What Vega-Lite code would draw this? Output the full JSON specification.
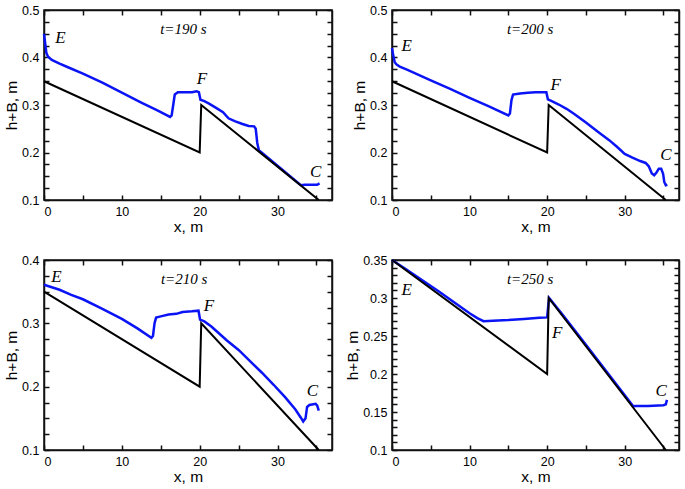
{
  "$schema": "https://vega.github.io/schema/vega-lite/v6.json",
  "padding": 3,
  "config": {
    "view": {"stroke": "#111111", "strokeWidth": 1.5},
    "axis": {
      "labelColor": "black", "labelFont": "Liberation Sans", "labelFontSize": 12.5,
      "titleFont": "Liberation Sans", "titleFontSize": 15.5, "titleFontWeight": "normal", "titleColor": "black",
      "tickColor": "#111111", "domainColor": "#111111", "gridOpacity": 0, "titlePadding": 2
    }
  },
  "columns": 2,
  "spacing": {"column": 10, "row": 17},
  "concat": [
    {
      "width": 288, "height": 190,
      "resolve": {"axis": {"x": "independent", "y": "independent"}},
      "layer": [
        {
          "data": {"values": [
            {"x": 0, "y": 0.45}, {"x": 0.15, "y": 0.43}, {"x": 0.3, "y": 0.41}, {"x": 0.5, "y": 0.402}, {"x": 1, "y": 0.395}, {"x": 2, "y": 0.387}, {"x": 3, "y": 0.38}, {"x": 5, "y": 0.366}, {"x": 7.5, "y": 0.347}, {"x": 10, "y": 0.326}, {"x": 12.5, "y": 0.305}, {"x": 14.5, "y": 0.289}, {"x": 16.2, "y": 0.275}, {"x": 16.4, "y": 0.278}, {"x": 16.6, "y": 0.3}, {"x": 16.8, "y": 0.322}, {"x": 17.2, "y": 0.327}, {"x": 18, "y": 0.327}, {"x": 19, "y": 0.327}, {"x": 19.6, "y": 0.329}, {"x": 19.9, "y": 0.327}, {"x": 20.1, "y": 0.311}, {"x": 20.6, "y": 0.308}, {"x": 21.2, "y": 0.303}, {"x": 22, "y": 0.295}, {"x": 23, "y": 0.285}, {"x": 23.7, "y": 0.272}, {"x": 24.5, "y": 0.266}, {"x": 25.5, "y": 0.26}, {"x": 26.3, "y": 0.256}, {"x": 27, "y": 0.255}, {"x": 27.2, "y": 0.25}, {"x": 27.4, "y": 0.22}, {"x": 27.6, "y": 0.205}, {"x": 30, "y": 0.172}, {"x": 33, "y": 0.131}, {"x": 33.5, "y": 0.132}, {"x": 34.5, "y": 0.132}, {"x": 35.1, "y": 0.132}, {"x": 35.4, "y": 0.135}
          ]},
          "mark": {"type": "line", "color": "#0a14f5", "strokeWidth": 2.5},
          "encoding": {
            "x": {"field": "x", "type": "quantitative", "scale": {"domain": [0, 37], "nice": false},
                  "axis": {"orient": "bottom", "title": "x, m", "values": [0, 5, 10, 15, 20, 25, 30, 35], "labelExpr": "datum.value % 10 == 0 ? datum.label : ''", "tickSize": -5, "tickWidth": 1.5, "domainWidth": 1.5, "labelPadding": 10, "labelOverlap": false}},
            "y": {"field": "y", "type": "quantitative", "scale": {"domain": [0.1, 0.5], "nice": false, "zero": false},
                  "axis": {"orient": "left", "title": "h+B, m", "values": [0.1, 0.125, 0.15, 0.175, 0.2, 0.225, 0.25, 0.275, 0.3, 0.325, 0.35, 0.375, 0.4, 0.425, 0.45, 0.475, 0.5], "labelExpr": "abs(datum.value*10 - round(datum.value*10)) < 0.001 ? format(datum.value, '.2~f') : ''", "tickSize": -5, "tickWidth": 1.5, "domainWidth": 1.5, "labelPadding": 10, "labelOverlap": false}}
          }
        },
        {
          "data": {"values": [{"x": 0, "y": 0.35}, {"x": 20, "y": 0.2}, {"x": 20.2, "y": 0.3}, {"x": 35.3, "y": 0.1}]},
          "mark": {"type": "line", "color": "black", "strokeWidth": 2},
          "encoding": {
            "x": {"field": "x", "type": "quantitative", "axis": {"orient": "top", "title": null, "labels": false, "values": [0, 5, 10, 15, 20, 25, 30, 35], "tickSize": -5, "tickWidth": 1.5, "domainWidth": 1.5}},
            "y": {"field": "y", "type": "quantitative", "axis": {"orient": "right", "title": null, "labels": false, "values": [0.1, 0.125, 0.15, 0.175, 0.2, 0.225, 0.25, 0.275, 0.3, 0.325, 0.35, 0.375, 0.4, 0.425, 0.45, 0.475, 0.5], "tickSize": -5, "tickWidth": 1.5, "domainWidth": 1.5}}
          }
        },
        {
          "data": {"values": [{"label": "E", "x": 2.1, "y": 0.441}, {"label": "F", "x": 20.3, "y": 0.354}, {"label": "C", "x": 34.9, "y": 0.159}]},
          "mark": {"type": "text", "font": "Liberation Serif", "fontStyle": "italic", "fontSize": 17, "color": "black"},
          "encoding": {"x": {"field": "x", "type": "quantitative", "axis": null}, "y": {"field": "y", "type": "quantitative", "axis": null}, "text": {"field": "label"}}
        },
        {
          "data": {"values": [{"label": "t=190 s", "x": 17.9, "y": 0.46}]},
          "mark": {"type": "text", "font": "Liberation Serif", "fontStyle": "italic", "fontSize": 15, "color": "black"},
          "encoding": {"x": {"field": "x", "type": "quantitative", "axis": null}, "y": {"field": "y", "type": "quantitative", "axis": null}, "text": {"field": "label"}}
        }
      ]
    },
    {
      "width": 287, "height": 190,
      "resolve": {"axis": {"x": "independent", "y": "independent"}},
      "layer": [
        {
          "data": {"values": [
            {"x": 0, "y": 0.42}, {"x": 0.15, "y": 0.405}, {"x": 0.35, "y": 0.39}, {"x": 0.6, "y": 0.385}, {"x": 1, "y": 0.381}, {"x": 2, "y": 0.374}, {"x": 5, "y": 0.352}, {"x": 7.5, "y": 0.334}, {"x": 10, "y": 0.315}, {"x": 12.5, "y": 0.297}, {"x": 15, "y": 0.278}, {"x": 15.2, "y": 0.282}, {"x": 15.4, "y": 0.31}, {"x": 15.6, "y": 0.322}, {"x": 16.5, "y": 0.324}, {"x": 17.5, "y": 0.326}, {"x": 18.5, "y": 0.327}, {"x": 19.9, "y": 0.327}, {"x": 20.1, "y": 0.312}, {"x": 20.6, "y": 0.308}, {"x": 21.5, "y": 0.301}, {"x": 22.5, "y": 0.292}, {"x": 23.5, "y": 0.281}, {"x": 25, "y": 0.263}, {"x": 26.5, "y": 0.244}, {"x": 28, "y": 0.226}, {"x": 29, "y": 0.212}, {"x": 30, "y": 0.197}, {"x": 31, "y": 0.189}, {"x": 32, "y": 0.182}, {"x": 32.7, "y": 0.178}, {"x": 33.1, "y": 0.171}, {"x": 33.5, "y": 0.156}, {"x": 33.8, "y": 0.152}, {"x": 34.1, "y": 0.158}, {"x": 34.4, "y": 0.166}, {"x": 34.7, "y": 0.166}, {"x": 34.95, "y": 0.155}, {"x": 35.1, "y": 0.138}, {"x": 35.3, "y": 0.131}, {"x": 35.5, "y": 0.132}
          ]},
          "mark": {"type": "line", "color": "#0a14f5", "strokeWidth": 2.5},
          "encoding": {
            "x": {"field": "x", "type": "quantitative", "scale": {"domain": [0, 37], "nice": false},
                  "axis": {"orient": "bottom", "title": "x, m", "values": [0, 5, 10, 15, 20, 25, 30, 35], "labelExpr": "datum.value % 10 == 0 ? datum.label : ''", "tickSize": -5, "tickWidth": 1.5, "domainWidth": 1.5, "labelPadding": 10, "labelOverlap": false}},
            "y": {"field": "y", "type": "quantitative", "scale": {"domain": [0.1, 0.5], "nice": false, "zero": false},
                  "axis": {"orient": "left", "title": "h+B, m", "values": [0.1, 0.125, 0.15, 0.175, 0.2, 0.225, 0.25, 0.275, 0.3, 0.325, 0.35, 0.375, 0.4, 0.425, 0.45, 0.475, 0.5], "labelExpr": "abs(datum.value*10 - round(datum.value*10)) < 0.001 ? format(datum.value, '.2~f') : ''", "tickSize": -5, "tickWidth": 1.5, "domainWidth": 1.5, "labelPadding": 10, "labelOverlap": false}}
          }
        },
        {
          "data": {"values": [{"x": 0, "y": 0.35}, {"x": 20, "y": 0.2}, {"x": 20.2, "y": 0.3}, {"x": 35.3, "y": 0.1}]},
          "mark": {"type": "line", "color": "black", "strokeWidth": 2},
          "encoding": {
            "x": {"field": "x", "type": "quantitative", "axis": {"orient": "top", "title": null, "labels": false, "values": [0, 5, 10, 15, 20, 25, 30, 35], "tickSize": -5, "tickWidth": 1.5, "domainWidth": 1.5}},
            "y": {"field": "y", "type": "quantitative", "axis": {"orient": "right", "title": null, "labels": false, "values": [0.1, 0.125, 0.15, 0.175, 0.2, 0.225, 0.25, 0.275, 0.3, 0.325, 0.35, 0.375, 0.4, 0.425, 0.45, 0.475, 0.5], "tickSize": -5, "tickWidth": 1.5, "domainWidth": 1.5}}
          }
        },
        {
          "data": {"values": [{"label": "E", "x": 1.9, "y": 0.424}, {"label": "F", "x": 21.1, "y": 0.343}, {"label": "C", "x": 35.3, "y": 0.194}]},
          "mark": {"type": "text", "font": "Liberation Serif", "fontStyle": "italic", "fontSize": 17, "color": "black"},
          "encoding": {"x": {"field": "x", "type": "quantitative", "axis": null}, "y": {"field": "y", "type": "quantitative", "axis": null}, "text": {"field": "label"}}
        },
        {
          "data": {"values": [{"label": "t=200 s", "x": 17.8, "y": 0.46}]},
          "mark": {"type": "text", "font": "Liberation Serif", "fontStyle": "italic", "fontSize": 15, "color": "black"},
          "encoding": {"x": {"field": "x", "type": "quantitative", "axis": null}, "y": {"field": "y", "type": "quantitative", "axis": null}, "text": {"field": "label"}}
        }
      ]
    },
    {
      "width": 288, "height": 190,
      "resolve": {"axis": {"x": "independent", "y": "independent"}},
      "layer": [
        {
          "data": {"values": [
            {"x": 0, "y": 0.361}, {"x": 1, "y": 0.357}, {"x": 2, "y": 0.353}, {"x": 3.5, "y": 0.345}, {"x": 5, "y": 0.338}, {"x": 7.5, "y": 0.323}, {"x": 10, "y": 0.307}, {"x": 12, "y": 0.292}, {"x": 13.8, "y": 0.277}, {"x": 14, "y": 0.28}, {"x": 14.2, "y": 0.3}, {"x": 14.4, "y": 0.309}, {"x": 15, "y": 0.311}, {"x": 16, "y": 0.314}, {"x": 17, "y": 0.315}, {"x": 17.8, "y": 0.318}, {"x": 19, "y": 0.319}, {"x": 19.85, "y": 0.32}, {"x": 20.05, "y": 0.306}, {"x": 20.6, "y": 0.303}, {"x": 21.5, "y": 0.295}, {"x": 22.5, "y": 0.284}, {"x": 23.5, "y": 0.273}, {"x": 25, "y": 0.258}, {"x": 26.5, "y": 0.24}, {"x": 28, "y": 0.222}, {"x": 29.5, "y": 0.203}, {"x": 31, "y": 0.183}, {"x": 32.3, "y": 0.164}, {"x": 33, "y": 0.151}, {"x": 33.3, "y": 0.145}, {"x": 33.6, "y": 0.15}, {"x": 33.8, "y": 0.168}, {"x": 34.1, "y": 0.171}, {"x": 34.9, "y": 0.173}, {"x": 35.1, "y": 0.17}, {"x": 35.3, "y": 0.162}
          ]},
          "mark": {"type": "line", "color": "#0a14f5", "strokeWidth": 2.5},
          "encoding": {
            "x": {"field": "x", "type": "quantitative", "scale": {"domain": [0, 37], "nice": false},
                  "axis": {"orient": "bottom", "title": "x, m", "values": [0, 5, 10, 15, 20, 25, 30, 35], "labelExpr": "datum.value % 10 == 0 ? datum.label : ''", "tickSize": -5, "tickWidth": 1.5, "domainWidth": 1.5, "labelPadding": 10, "labelOverlap": false}},
            "y": {"field": "y", "type": "quantitative", "scale": {"domain": [0.1, 0.4], "nice": false, "zero": false},
                  "axis": {"orient": "left", "title": "h+B, m", "values": [0.1, 0.125, 0.15, 0.175, 0.2, 0.225, 0.25, 0.275, 0.3, 0.325, 0.35, 0.375, 0.4], "labelExpr": "abs(datum.value*10 - round(datum.value*10)) < 0.001 ? format(datum.value, '.2~f') : ''", "tickSize": -5, "tickWidth": 1.5, "domainWidth": 1.5, "labelPadding": 10, "labelOverlap": false}}
          }
        },
        {
          "data": {"values": [{"x": 0, "y": 0.35}, {"x": 20, "y": 0.2}, {"x": 20.2, "y": 0.3}, {"x": 35.3, "y": 0.1}]},
          "mark": {"type": "line", "color": "black", "strokeWidth": 2},
          "encoding": {
            "x": {"field": "x", "type": "quantitative", "axis": {"orient": "top", "title": null, "labels": false, "values": [0, 5, 10, 15, 20, 25, 30, 35], "tickSize": -5, "tickWidth": 1.5, "domainWidth": 1.5}},
            "y": {"field": "y", "type": "quantitative", "axis": {"orient": "right", "title": null, "labels": false, "values": [0.1, 0.125, 0.15, 0.175, 0.2, 0.225, 0.25, 0.275, 0.3, 0.325, 0.35, 0.375, 0.4], "tickSize": -5, "tickWidth": 1.5, "domainWidth": 1.5}}
          }
        },
        {
          "data": {"values": [{"label": "E", "x": 1.6, "y": 0.373}, {"label": "F", "x": 21.2, "y": 0.327}, {"label": "C", "x": 34.5, "y": 0.193}]},
          "mark": {"type": "text", "font": "Liberation Serif", "fontStyle": "italic", "fontSize": 17, "color": "black"},
          "encoding": {"x": {"field": "x", "type": "quantitative", "axis": null}, "y": {"field": "y", "type": "quantitative", "axis": null}, "text": {"field": "label"}}
        },
        {
          "data": {"values": [{"label": "t=210 s", "x": 18.0, "y": 0.37}]},
          "mark": {"type": "text", "font": "Liberation Serif", "fontStyle": "italic", "fontSize": 15, "color": "black"},
          "encoding": {"x": {"field": "x", "type": "quantitative", "axis": null}, "y": {"field": "y", "type": "quantitative", "axis": null}, "text": {"field": "label"}}
        }
      ]
    },
    {
      "width": 287, "height": 190,
      "resolve": {"axis": {"x": "independent", "y": "independent"}},
      "layer": [
        {
          "data": {"values": [
            {"x": 0, "y": 0.35}, {"x": 2, "y": 0.3365}, {"x": 4, "y": 0.3225}, {"x": 6, "y": 0.309}, {"x": 8, "y": 0.2945}, {"x": 10, "y": 0.28}, {"x": 11, "y": 0.2735}, {"x": 11.8, "y": 0.2695}, {"x": 13, "y": 0.27}, {"x": 15, "y": 0.271}, {"x": 17, "y": 0.2725}, {"x": 19, "y": 0.274}, {"x": 20, "y": 0.2745}, {"x": 20.1, "y": 0.285}, {"x": 20.25, "y": 0.3}, {"x": 22, "y": 0.278}, {"x": 25, "y": 0.2385}, {"x": 28, "y": 0.1988}, {"x": 31.1, "y": 0.1575}, {"x": 31.4, "y": 0.158}, {"x": 33, "y": 0.158}, {"x": 35, "y": 0.159}, {"x": 35.3, "y": 0.16}, {"x": 35.45, "y": 0.166}
          ]},
          "mark": {"type": "line", "color": "#0a14f5", "strokeWidth": 2.5},
          "encoding": {
            "x": {"field": "x", "type": "quantitative", "scale": {"domain": [0, 37], "nice": false},
                  "axis": {"orient": "bottom", "title": "x, m", "values": [0, 5, 10, 15, 20, 25, 30, 35], "labelExpr": "datum.value % 10 == 0 ? datum.label : ''", "tickSize": -5, "tickWidth": 1.5, "domainWidth": 1.5, "labelPadding": 10, "labelOverlap": false}},
            "y": {"field": "y", "type": "quantitative", "scale": {"domain": [0.1, 0.35], "nice": false, "zero": false},
                  "axis": {"orient": "left", "title": "h+B, m", "values": [0.1, 0.11, 0.12, 0.13, 0.14, 0.15, 0.16, 0.17, 0.18, 0.19, 0.2, 0.21, 0.22, 0.23, 0.24, 0.25, 0.26, 0.27, 0.28, 0.29, 0.3, 0.31, 0.32, 0.33, 0.34, 0.35], "labelExpr": "abs(datum.value*20 - round(datum.value*20)) < 0.001 ? format(datum.value, '.2~f') : ''", "tickSize": -5, "tickWidth": 1.5, "domainWidth": 1.5, "labelPadding": 10, "labelOverlap": false}}
          }
        },
        {
          "data": {"values": [{"x": 0, "y": 0.35}, {"x": 20, "y": 0.2}, {"x": 20.2, "y": 0.3}, {"x": 35.3, "y": 0.1}]},
          "mark": {"type": "line", "color": "black", "strokeWidth": 2},
          "encoding": {
            "x": {"field": "x", "type": "quantitative", "axis": {"orient": "top", "title": null, "labels": false, "values": [0, 5, 10, 15, 20, 25, 30, 35], "tickSize": -5, "tickWidth": 1.5, "domainWidth": 1.5}},
            "y": {"field": "y", "type": "quantitative", "axis": {"orient": "right", "title": null, "labels": false, "values": [0.1, 0.11, 0.12, 0.13, 0.14, 0.15, 0.16, 0.17, 0.18, 0.19, 0.2, 0.21, 0.22, 0.23, 0.24, 0.25, 0.26, 0.27, 0.28, 0.29, 0.3, 0.31, 0.32, 0.33, 0.34, 0.35], "tickSize": -5, "tickWidth": 1.5, "domainWidth": 1.5}}
          }
        },
        {
          "data": {"values": [{"label": "E", "x": 1.9, "y": 0.311}, {"label": "F", "x": 21.3, "y": 0.254}, {"label": "C", "x": 34.7, "y": 0.177}]},
          "mark": {"type": "text", "font": "Liberation Serif", "fontStyle": "italic", "fontSize": 17, "color": "black"},
          "encoding": {"x": {"field": "x", "type": "quantitative", "axis": null}, "y": {"field": "y", "type": "quantitative", "axis": null}, "text": {"field": "label"}}
        },
        {
          "data": {"values": [{"label": "t=250 s", "x": 17.8, "y": 0.325}]},
          "mark": {"type": "text", "font": "Liberation Serif", "fontStyle": "italic", "fontSize": 15, "color": "black"},
          "encoding": {"x": {"field": "x", "type": "quantitative", "axis": null}, "y": {"field": "y", "type": "quantitative", "axis": null}, "text": {"field": "label"}}
        }
      ]
    }
  ]
}
